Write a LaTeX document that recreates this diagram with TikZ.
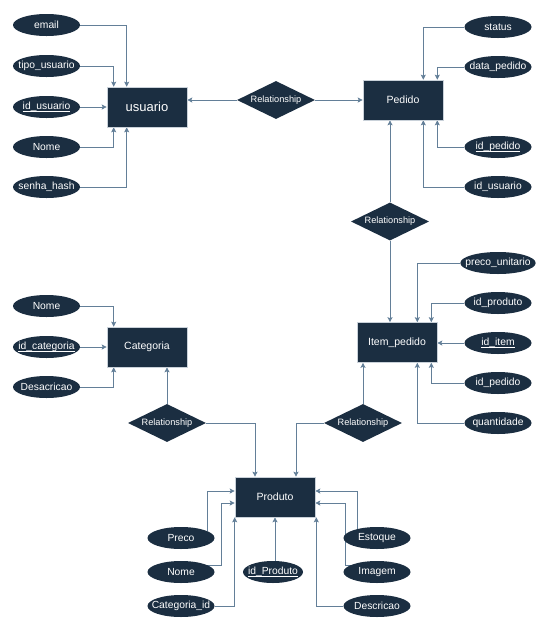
\documentclass[tikz,border=0pt]{standalone}
\usepackage{fontspec}
\setmainfont{Liberation Sans}
\usetikzlibrary{shapes.geometric,arrows.meta,backgrounds}
\definecolor{navy}{HTML}{1B2E41}
\definecolor{linec}{HTML}{637F98}
\definecolor{edgec}{HTML}{C9D1D9}
\newcommand\keyul[1]{\setbox0\hbox{#1}\rlap{\rule[-1.7pt]{\wd0}{0.55pt}}\box0}
\tikzset{
  entity/.style={rectangle, fill=navy, draw=edgec, line width=0.6pt, minimum width=80pt, minimum height=40pt, inner sep=0pt, text=white, font=\fontsize{10.5}{12}\selectfont},
  attr/.style={ellipse, fill=navy, minimum width=67pt, minimum height=22pt, inner xsep=-6pt, inner ysep=0pt, text=white, font=\fontsize{10.3}{12}\selectfont},
  rel/.style={diamond, aspect=2, fill=navy, minimum width=78pt, minimum height=38pt, inner sep=0pt, text=white, font=\fontsize{9.2}{11}\selectfont},
  conn/.style={draw=linec, line width=0.8pt, -{Stealth[length=5pt,width=5pt,inset=1pt]}}
}
\begin{document}
\begin{tikzpicture}[x=1pt,y=-1pt]
\useasboundingbox (0,0) rectangle (545,633);
% entities
\node[entity, font=\fontsize{13}{15}\selectfont] (usuario) at (147,107) {usuario};
\node[entity] (pedido) at (403,100) {Pedido};
\node[entity] (categoria) at (147,347) {Categoria};
\node[entity] (item) at (397,342.5) {Item\_pedido};
\node[entity] (produto) at (275,497) {Produto};
% relationships
\node[rel] (rel1) at (276,100) {Relationship};
\node[rel] (rel2) at (390,221.5) {Relationship};
\node[rel] (rel3) at (167,423) {Relationship};
\node[rel] (rel4) at (363,423) {Relationship};
% usuario attributes
\node[attr] (email) at (46.5,25) {email};
\node[attr] (tipo) at (46.5,66) {tipo\_usuario};
\node[attr] (idusu) at (46.5,107) {\keyul{id\_usuario}};
\node[attr] (nome1) at (46.5,147) {Nome};
\node[attr] (senha) at (46.5,187) {senha\_hash};
% pedido attributes
\node[attr] (status) at (498,27) {status};
\node[attr] (data) at (498,67) {data\_pedido};
\node[attr] (idped) at (498,147) {\keyul{id\_pedido}};
\node[attr] (idusu2) at (498,187) {id\_usuario};
% item attributes
\node[attr] (pu) at (498,263) {preco\_unitario};
\node[attr] (idprod2) at (498,303) {id\_produto};
\node[attr] (iditem) at (498,343) {\keyul{id\_item}};
\node[attr] (idped2) at (498,383) {id\_pedido};
\node[attr] (qtd) at (498,423) {quantidade};
% categoria attributes
\node[attr] (nome2) at (46.5,306) {Nome};
\node[attr] (idcat) at (46.5,347) {\keyul{id\_categoria}};
\node[attr] (desc) at (46.5,387) {Desacricao};
% produto attributes
\node[attr] (preco) at (181,538) {Preco};
\node[attr] (nome3) at (181,572) {Nome};
\node[attr] (catid) at (181,606) {Categoria\_id};
\node[attr, minimum width=60pt] (idprod) at (273,572) {\keyul{id\_Produto}};
\node[attr] (estoque) at (377,538) {Estoque};
\node[attr] (imagem) at (377,572) {Imagem};
\node[attr] (descr) at (377,606) {Descricao};
% connectors
\begin{scope}[on background layer]
\fill[white] (0,0) rectangle (545,633);
\draw[conn] (email.east) -| ([xshift=20pt]usuario.north west);
\draw[conn] (tipo.east) -| ([xshift=7pt]usuario.north west);
\draw[conn] (idusu.east) -- (usuario.west);
\draw[conn] (nome1.east) -| ([xshift=7pt]usuario.south west);
\draw[conn] (senha.east) -| ([xshift=20pt]usuario.south west);
\draw[conn] (rel1.west) -- (rel1.west -| usuario.east);
\draw[conn] (rel1.east) -- (pedido.west);
\draw[conn] (status.west) -| ([xshift=-20pt]pedido.north east);
\draw[conn] (data.west) -| ([xshift=-6pt]pedido.north east);
\draw[conn] (idped.west) -| ([xshift=-6pt]pedido.south east);
\draw[conn] (idusu2.west) -| ([xshift=-20pt]pedido.south east);
\draw[conn] (rel2.north) -- (rel2.north |- pedido.south);
\draw[conn] (rel2.south) -- (rel2.south |- item.north);
\draw[conn] (pu.west) -| ([xshift=-20pt]item.north east);
\draw[conn] (idprod2.west) -| ([xshift=-6pt]item.north east);
\draw[conn] (iditem.west) -- (iditem.west -| item.east);
\draw[conn] (idped2.west) -| ([xshift=-6pt]item.south east);
\draw[conn] (qtd.west) -| ([xshift=-20pt]item.south east);
\draw[conn] (rel4.north) -- (rel4.north |- item.south);
\draw[conn] (rel4.west) -| ([xshift=21pt]produto.north);
\draw[conn] (rel3.north) -- (rel3.north |- categoria.south);
\draw[conn] (rel3.east) -| ([xshift=-20pt]produto.north);
\draw[conn] (nome2.east) -| ([xshift=7pt]categoria.north west);
\draw[conn] (idcat.east) -- (categoria.west);
\draw[conn] (desc.east) -| ([xshift=7pt]categoria.south west);
\draw[conn] ([shift={(26,-7)}]preco.center) |- ([yshift=6pt]produto.west);
\draw[conn] ([shift={(26,-7)}]nome3.center) -- ++(14,0) |- ([yshift=-6pt]produto.west);
\draw[conn] (catid.east) -| (produto.south west);
\draw[conn] (idprod.north -| produto.south) -- (produto.south);
\draw[conn] ([shift={(-20,-9)}]estoque.center) |- ([yshift=6pt]produto.east);
\draw[conn] ([shift={(-26,-7)}]imagem.center) -- ++(-6,0) |- ([yshift=-6pt]produto.east);
\draw[conn] (descr.west) -| ([xshift=1pt]produto.south east);
\end{scope}
\end{tikzpicture}
\end{document}
